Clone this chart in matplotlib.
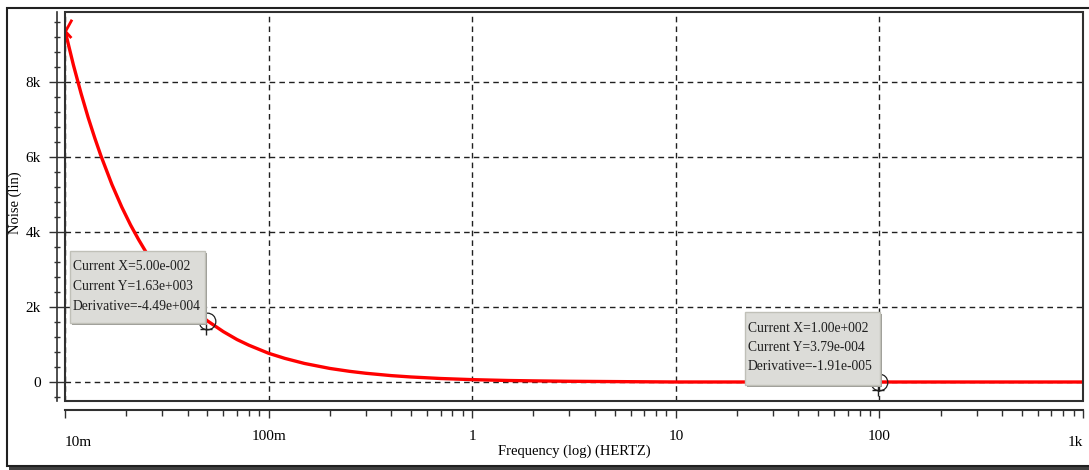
import numpy as np
import matplotlib
matplotlib.use('Agg')
import matplotlib.pyplot as plt
from matplotlib.path import Path
from matplotlib.patches import Rectangle
from matplotlib import transforms

plt.rcParams['font.family'] = ['Liberation Serif', 'DejaVu Serif']

# noise curve (Hz, lin)
freq = [0.01, 0.011, 0.012, 0.013, 0.014, 0.015, 0.017, 0.019, 0.021, 0.023,
        0.025, 0.03, 0.035, 0.04, 0.05, 0.06, 0.07, 0.08, 0.1, 0.12, 0.15,
        0.2, 0.25, 0.3, 0.4, 0.5, 0.7, 1, 1.5, 2, 3, 5, 10, 20, 50, 100,
        200, 500, 1000]
noise = [9360, 8440, 7680, 7040, 6500, 6030, 5260, 4660, 4180, 3790,
         3460, 2840, 2400, 2080, 1630, 1340, 1130, 980, 765, 630, 494,
         361, 284, 233, 170, 134, 93, 63, 40, 30, 19, 11, 0.5, 0.05, 0.003,
         3.79e-4, 8e-5, 1e-5, 3e-6]

xtick_vals = [0.01, 0.1, 1, 10, 100, 1000]
xtick_labels = ['10m', '100m', '1', '10', '100', '1k']
ytick_vals = [0, 2000, 4000, 6000, 8000]
ytick_labels = ['0', '2k', '4k', '6k', '8k']

cursor1 = (0.05, 1630)
cursor1_text = ['Current X=5.00e-002', 'Current Y=1.63e+003', 'Derivative=-4.49e+004']
cursor2 = (100, 3.79e-4)
cursor2_text = ['Current X=1.00e+002', 'Current Y=3.79e-004', 'Derivative=-1.91e-005']

W, H = 1089, 470
fig = plt.figure(figsize=(W / 100, H / 100), dpi=100)


def fx(x):
    return x / W


def fy(y):
    return 1 - y / H


# outer window frame with shadow
fig.add_artist(Rectangle((fx(9), fy(470)), fx(1100), 3 / H, transform=fig.transFigure,
                         facecolor='#404040', edgecolor='none', zorder=0))
fig.add_artist(Rectangle((fx(7), fy(466)), fx(1100), (466 - 8) / H, transform=fig.transFigure,
                         facecolor='white', edgecolor='#202020', lw=1.5, zorder=0))

ax = fig.add_axes([fx(65), fy(400.7), fx(1083 - 65), (400.7 - 12.3) / H])
ax.set_xscale('log')
ax.set_xlim(0.01, 1000)
ax.set_ylim(-498, 9846)

for s in ['top', 'right']:
    ax.spines[s].set_visible(False)
ax.spines['left'].set_position(('outward', 6))
ax.spines['bottom'].set_position(('outward', 7))
ax.spines['left'].set_color('#303030')
ax.spines['bottom'].set_color('#303030')
ax.spines['left'].set_linewidth(1.2)
ax.spines['bottom'].set_linewidth(1.5)
ax.add_patch(Rectangle((0, 0), 1, 1, transform=ax.transAxes, fill=False,
                       edgecolor='#303030', lw=1.5, clip_on=False, zorder=5))

ax.set_yticks(ytick_vals)
ax.set_yticklabels(ytick_labels)
ax.yaxis.set_minor_locator(matplotlib.ticker.MultipleLocator(400))
ax.tick_params(axis='y', which='major', direction='inout', length=12, width=1,
               pad=5.5, labelsize=11, color='#303030')
ax.tick_params(axis='y', which='minor', direction='inout', length=4, width=1,
               color='#303030')

ax.set_xticks(xtick_vals)
ax.set_xticklabels([''] + xtick_labels[1:-1] + [''])
ax.xaxis.set_minor_locator(matplotlib.ticker.LogLocator(base=10, subs=np.arange(2, 10)))
ax.xaxis.set_minor_formatter(matplotlib.ticker.NullFormatter())
ax.tick_params(axis='x', which='major', direction='out', length=6, width=1,
               pad=8, labelsize=11, color='#303030')
ax.tick_params(axis='x', which='minor', direction='out', length=4, width=1,
               color='#303030')

# end labels sit lower, aligned to the plot edges
bt = transforms.blended_transform_factory(ax.transData, ax.transAxes)
low = transforms.offset_copy(bt, fig=fig, y=-41.5, units='dots')
ax.text(xtick_vals[0], 0, xtick_labels[0], transform=low, ha='left', va='center', fontsize=11)
ax.text(xtick_vals[-1], 0, xtick_labels[-1], transform=low, ha='right', va='center', fontsize=11)

ax.grid(True, which='major', color='#202020', linestyle=(0, (4, 3)), linewidth=1)

ax.plot(freq, noise, color='#ff0000', lw=2.4, zorder=3, solid_capstyle='butt')

chevron = Path([(0.55, 1), (0, 0), (0.5, -0.55)], [Path.MOVETO, Path.LINETO, Path.LINETO])
ax.plot(freq[0], noise[0], marker=chevron, markersize=17, markeredgecolor='#ff0000',
        markeredgewidth=2, fillstyle='none', linestyle='none', zorder=4, clip_on=False)

# cursor markers
for cx, cy in [cursor1, cursor2]:
    ax.plot(cx, cy, marker='o', markersize=12, fillstyle='none', markeredgecolor='#202020',
            markeredgewidth=0.9, linestyle='none', zorder=6, clip_on=False)
    tp = transforms.offset_copy(ax.transData, fig=fig, x=-1, y=-8, units='dots')
    ax.plot(cx, cy, marker='+', markersize=9, markeredgecolor='#202020',
            markeredgewidth=1, linestyle='none', transform=tp, zorder=6, clip_on=False)

fig.text(fx(15), fy(203), 'Noise (lin)', rotation=90, ha='center', va='center', fontsize=10.5)
fig.text(fx(574), fy(451), 'Frequency (log) (HERTZ)', ha='center', va='center', fontsize=10.5)


def info_box(x0, y0, x1, y1, lines):
    fig.add_artist(Rectangle((fx(x0 + 2), fy(y1 + 2)), fx(x1 - x0), (y1 - y0) / H,
                             transform=fig.transFigure, facecolor='#9a9a94',
                             edgecolor='none', zorder=7))
    fig.add_artist(Rectangle((fx(x0), fy(y1)), fx(x1 - x0), (y1 - y0) / H,
                             transform=fig.transFigure, facecolor='#dcdcd8',
                             edgecolor='#c0c0b8', lw=1, zorder=8))
    for i, t in enumerate(lines):
        fig.text(fx(x0 + 3), fy(y0 + 16 + 19.5 * i), t, ha='left', va='center',
                 fontsize=9.8, color='#202020', zorder=9)


info_box(70, 251, 205, 323, cursor1_text)
info_box(745, 312, 880, 385, cursor2_text)

fig.savefig('out.png', dpi=100)
